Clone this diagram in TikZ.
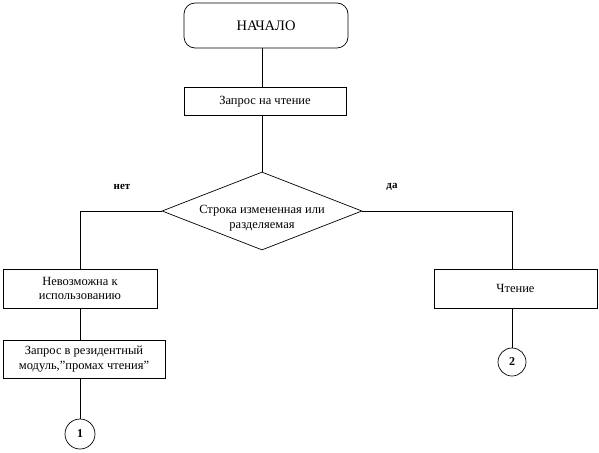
\documentclass[tikz,border=0pt]{standalone}
\usepackage{fontspec}
\setmainfont{Liberation Serif}
\usetikzlibrary{shapes.geometric}

\begin{document}
\begin{tikzpicture}[x=1pt, y=-1pt, line width=0.7pt, every node/.style={font=\fontsize{12.5}{14.5}\selectfont}]
    \tikzstyle{box}=[draw, rectangle, align=center, inner sep=2pt]
    \tikzstyle{term}=[draw, rectangle, rounded corners=11pt, minimum width=164pt, minimum height=45pt]
    \tikzstyle{conn}=[draw, circle, inner sep=0pt, font=\bfseries\fontsize{12}{14}\selectfont]
    \tikzstyle{answer}=[font=\bfseries\fontsize{11}{13}\selectfont]
    \useasboundingbox (0,0) rectangle (599,452);
    \node[term, font=\fontsize{14.5}{16}\selectfont] (start) at (266,25.5) {НАЧАЛО};
    \node[box, minimum width=162pt, minimum height=28pt] (req) at (265,101.5) {Запрос на чтение};
    \node[draw, diamond, minimum width=200pt, minimum height=78pt, inner sep=0pt] (dec) at (262,211) {};
    \node[align=center] (dectext) at (262,218) {Строка измененная или\\разделяемая};
    \node[answer] (no) at (122,187) {нет};
    \node[answer] (yes) at (392,187) {да};
    \node[box, minimum width=154pt, minimum height=39pt] (unusable) at (80,288.5) {Невозможна к\\использованию};
    \node[box, minimum width=162pt, minimum height=38pt] (resid) at (84,359) {Запрос в резидентный\\модуль,\symbol{"22}промах чтения”};
    \node[conn, minimum size=30pt] (c1) at (80,434) {1};
    \node[box, minimum width=163pt, minimum height=39pt] (read) at (515.5,288.5) {Чтение};
    \node[conn, minimum size=28pt] (c2) at (512,362) {2};
    \draw (start.south -| dec.north) -- (req.north -| dec.north);
    \draw (req.south -| dec.north) -- (dec.north);
    \draw (dec.west) -| (unusable.north);
    \draw (dec.east) -| (c2 |- read.north);
    \draw (unusable.south) -- (unusable.south |- resid.north);
    \draw (unusable.south |- resid.south) -- (c1);
    \draw (c2 |- read.south) -- (c2);
  \end{tikzpicture}
\end{document}
